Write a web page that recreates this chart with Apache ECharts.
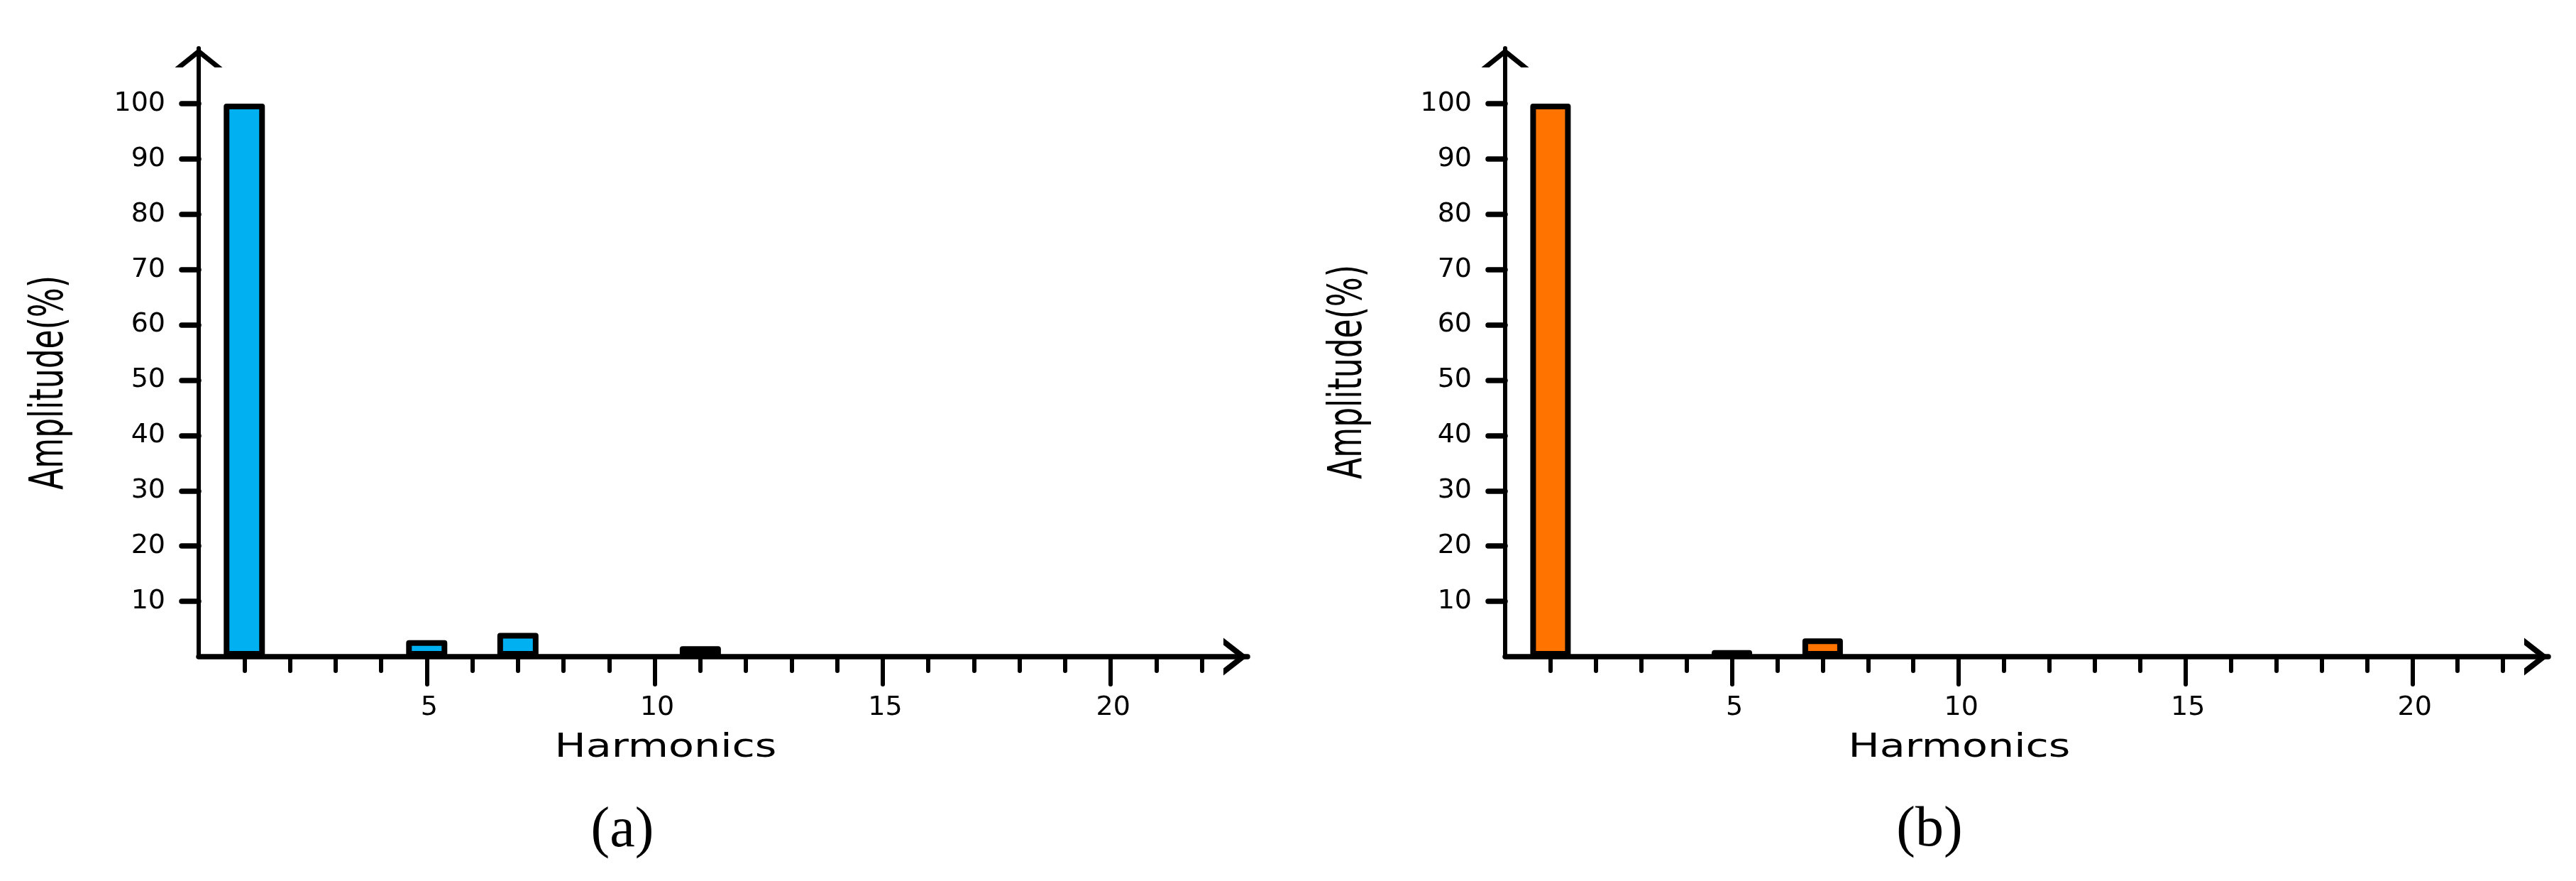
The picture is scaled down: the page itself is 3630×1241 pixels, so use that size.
<!DOCTYPE html>
<html>
<head>
<meta charset="utf-8">
<style>
html,body{margin:0;padding:0;background:#fff;}
#chart{width:3630px;height:1241px;}
</style>
<script src="https://cdn.jsdelivr.net/npm/echarts@6/dist/echarts.min.js"></script>
</head>
<body>
<div id="chart"></div>
<script>
// ---- data ----
const harmonics   = [1,2,3,4,5,6,7,8,9,10,11,12,13,14,15,16,17,18,19,20,21,22];
const amplitudeA  = [100,0,0,0,3.0,0,4.3,0,0,0,1.9,0,0,0,0,0,0,0,0,0,0,0];
const amplitudeB  = [100,0,0,0,1.2,0,3.3,0,0,0,0,0,0,0,0,0,0,0,0,0,0,0];
const yTickValues = [10,20,30,40,50,60,70,80,90,100];
const xMinorTicks = [1,2,3,4,6,7,8,9,11,12,13,14,16,17,18,19,21,22];
const xMajorTicks = [5,10,15,20];
const panelLabels = ['(a)','(b)'];
const xAxisTitle  = 'Harmonics';
const yAxisTitle  = 'Amplitude(%)';
const barColors   = ['#00b0f0','#ff7300'];

// ---- styling ----
const FONT = "'DejaVu Sans', sans-serif";
const xArrow = 'path://M0,34L26.5,0L53,34L43,34L26.5,12.8L10,34Z';
const yArrow = 'path://M0,27L33.5,0L67,27L56,27L33.5,8.9L11,27Z';

const grids = [
  {left: 280, top: 68, width: 1478, height: 857},
  {left: 2121, top: 68, width: 1470, height: 857}
];
const barWidths = [58, 57];

function mainXAxis(g){
  return {
    gridIndex: g, type: 'value', min: 0, max: 23, position: 'bottom',
    axisLine: {show: true, onZero: false, symbol: ['none', xArrow], symbolSize: [53, 34], symbolOffset: [0, -17],
      lineStyle: {color: '#000', width: 7.5}},
    axisTick: {show: true, inside: false, customValues: xMinorTicks, length: 20,
      lineStyle: {color: '#000', width: 6, cap: 'round'}},
    axisLabel: {show: false},
    splitLine: {show: false}
  };
}
function majorXAxis(g){
  return {
    gridIndex: g, type: 'value', min: 0, max: 23, position: 'bottom',
    axisLine: {show: false, onZero: false},
    axisTick: {show: true, inside: false, customValues: xMajorTicks, length: 39,
      lineStyle: {color: '#000', width: 6, cap: 'round'}},
    axisLabel: {show: true, customValues: xMajorTicks, margin: 53, fontSize: 38, fontFamily: FONT,
      color: '#000', padding: [0, 0, 0, 7]},
    splitLine: {show: false}
  };
}
function yAxisFor(g){
  return {
    gridIndex: g, type: 'value', min: 0, max: 110,
    axisLine: {show: true, onZero: false, symbol: ['none', yArrow], symbolSize: [67, 27], symbolOffset: [0, -13.5],
      lineStyle: {color: '#000', width: 6}},
    axisTick: {show: true, inside: false, customValues: yTickValues, length: 24,
      lineStyle: {color: '#000', width: 7.5, cap: 'round'}},
    axisLabel: {show: true, customValues: yTickValues, margin: 47, fontSize: 38, fontFamily: FONT,
      color: '#000', padding: [20, 0, 0, 0]},
    splitLine: {show: false}
  };
}
function barSeries(g, values){
  return {
    type: 'bar', xAxisIndex: g * 2, yAxisIndex: g, barWidth: barWidths[g],
    data: harmonics.map((h, k) => [h, values[k]]).filter(d => d[1] > 0),
    itemStyle: {color: barColors[g], borderColor: '#000', borderWidth: 8, borderJoin: 'round'},
    silent: true
  };
}
function textEl(x, y, text, fontSize, family, extra){
  return Object.assign({
    type: 'text', x: x, y: y, silent: true,
    style: {text: text, fontSize: fontSize, fontFamily: family, fill: '#000',
      align: 'center', verticalAlign: 'middle', textAlign: 'center', textVerticalAlign: 'middle'}
  }, extra || {});
}

const option = {
  backgroundColor: '#fff',
  animation: false,
  grid: grids,
  xAxis: [mainXAxis(0), majorXAxis(0), mainXAxis(1), majorXAxis(1)],
  yAxis: [yAxisFor(0), yAxisFor(1)],
  series: [barSeries(0, amplitudeA), barSeries(1, amplitudeB)],
  graphic: [
    textEl(71, 539, yAxisTitle, 44, FONT, {rotation: Math.PI / 2, scaleY: 1.5}),
    textEl(1901, 524, yAxisTitle, 44, FONT, {rotation: Math.PI / 2, scaleY: 1.5}),
    textEl(938, 1054, xAxisTitle, 47, FONT, {scaleX: 1.25}),
    textEl(2761, 1054, xAxisTitle, 47, FONT, {scaleX: 1.25}),
    textEl(877, 1171, panelLabels[0], 80, "'Liberation Serif', serif"),
    textEl(2719, 1170, panelLabels[1], 80, "'Liberation Serif', serif")
  ]
};

const chart = echarts.init(document.getElementById('chart'), null, {renderer: 'canvas'});
chart.setOption(option);
</script>
</body>
</html>
